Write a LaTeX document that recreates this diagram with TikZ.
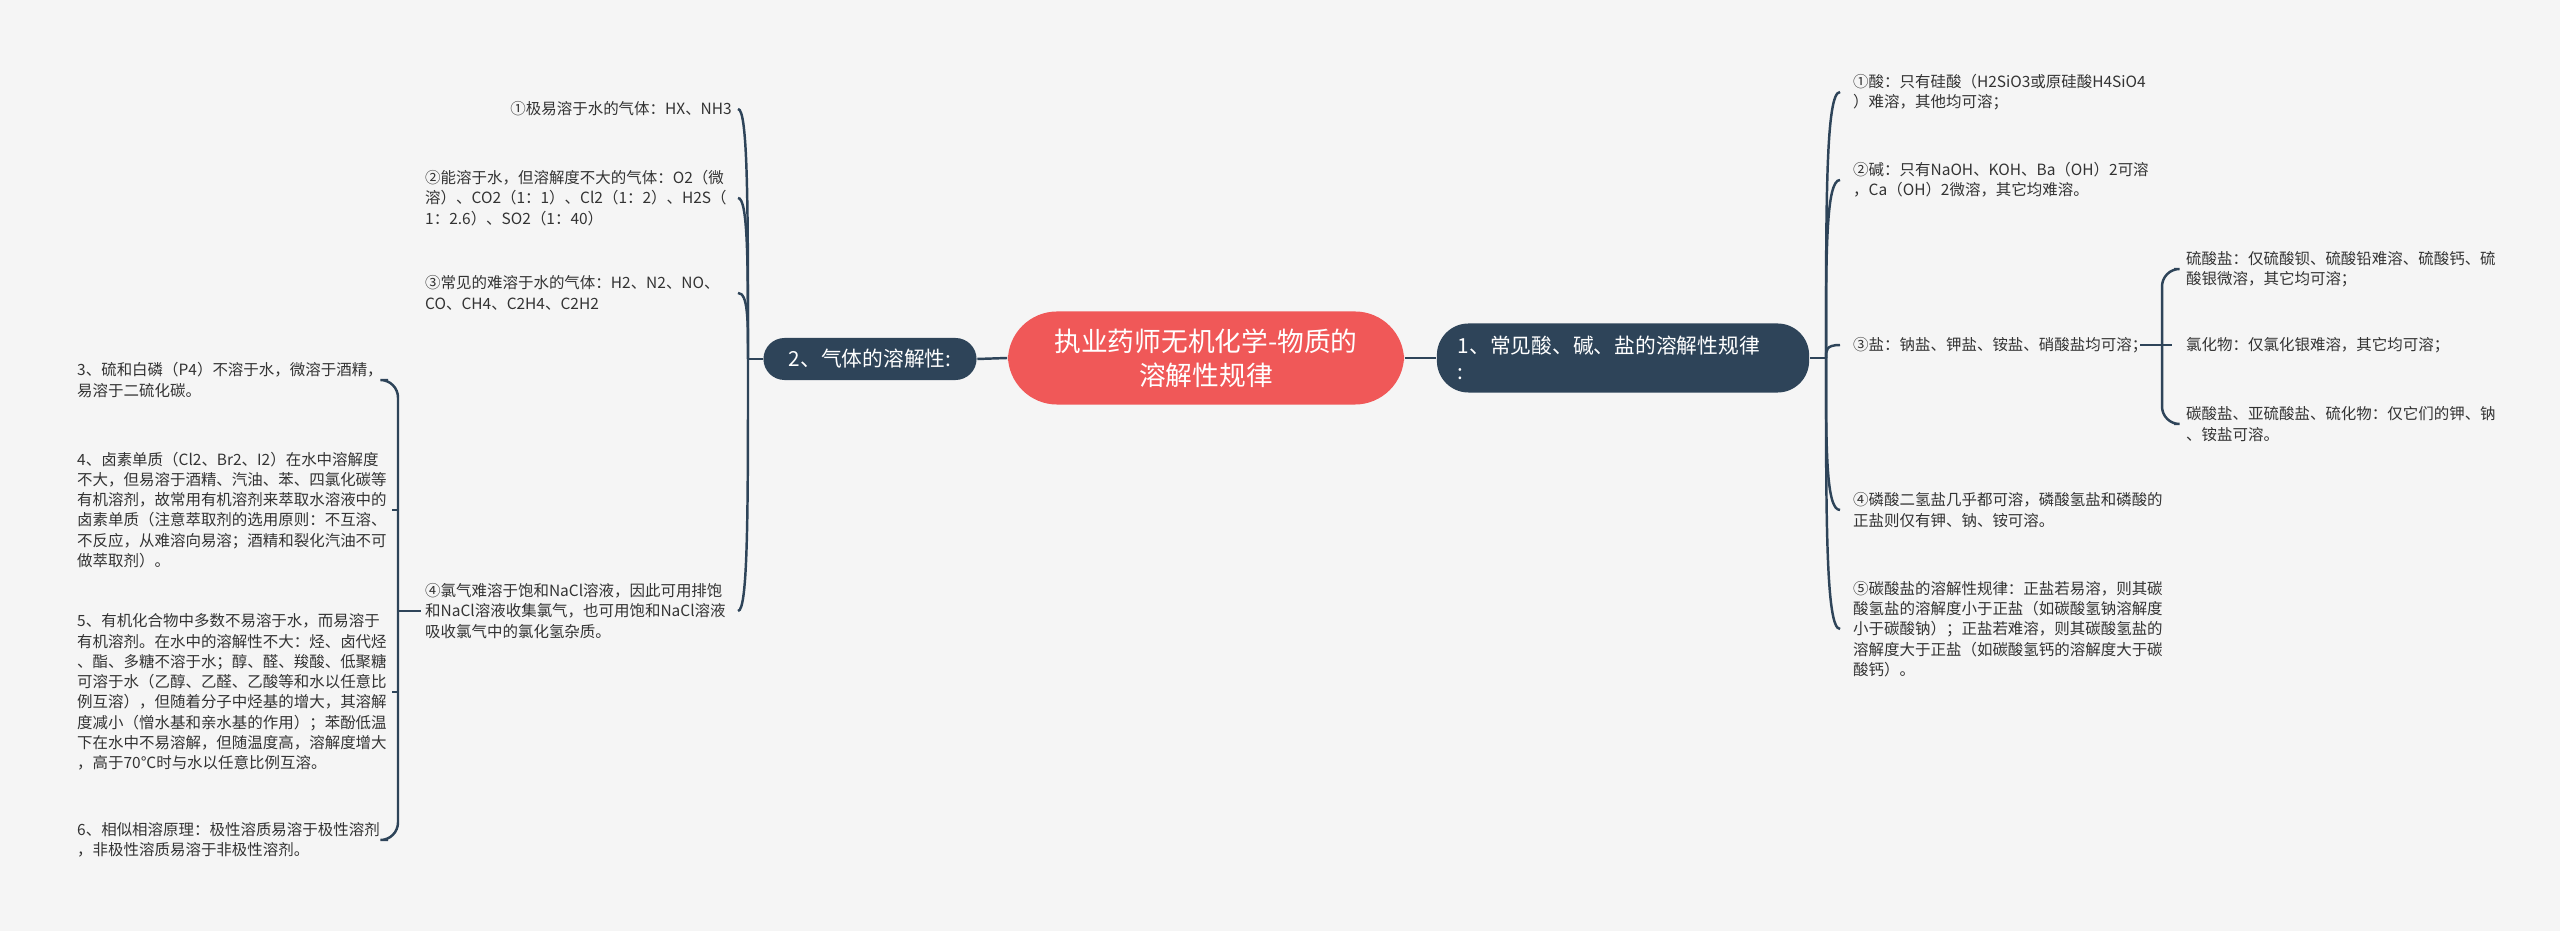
\documentclass[tikz,border=0pt]{standalone}
\usepackage{fontspec}
\setmainfont{Noto Sans CJK SC}
\begin{document}
\begin{tikzpicture}[x=0.01cm,y=-0.01cm,
  txt/.style={font=\fontsize{4.4pt}{5.75pt}\selectfont,text=black!80,inner sep=1pt,align=left,text width=3.3cm},
  con/.style={draw=dkblue,line width=0.7pt},
  dkbox/.style={fill=dkblue,rounded corners=9pt,text=white,font=\fontsize{5.9pt}{7.4pt}\selectfont,align=left,inner sep=0pt}]
\definecolor{dkblue}{HTML}{2E4459}
\definecolor{redc}{HTML}{F05858}
\fill[black!4] (0,0) rectangle (2560,931);
\useasboundingbox (0,0) rectangle (2560,931);
% main nodes
\node[fill=redc,rounded corners=14pt,minimum width=3.96cm,minimum height=0.93cm,text=white,font=\fontsize{7.6pt}{9.7pt}\selectfont,align=center,inner sep=0pt] (c) at (1206,358) {执业药师无机化学-物质的\\溶解性规律};
\node[dkbox,minimum width=3.72cm,minimum height=0.69cm,text width=3.3cm] (n1) at (1623,358) {1、常见酸、碱、盐的溶解性规律\\:};
\node[dkbox,minimum width=2.13cm,minimum height=0.42cm,rounded corners=6pt,align=center] (n2) at (870,359) {2、气体的溶解性:};
\draw[con] (n2.east) -- (c.west);
\draw[con] (c.east) -- (n1.west);
% left children
\coordinate (lt) at (748,359);
\draw[con] (n2.west) -- (lt);
\node[txt,anchor=east,align=right] (l1) at (736,109) {①极易溶于水的气体：HX、NH3};
\node[txt,anchor=west] (l2) at (421,198) {②能溶于水，但溶解度不大的气体：O2（微\\溶）、CO2（1：1）、Cl2（1：2）、H2S（\\1：2.6）、SO2（1：40）};
\node[txt,anchor=west] (l3) at (421,293) {③常见的难溶于水的气体：H2、N2、NO、\\CO、CH4、C2H4、C2H2};
\node[txt,anchor=west] (l4) at (421,611) {④氯气难溶于饱和NaCl溶液，因此可用排饱\\和NaCl溶液收集氯气，也可用饱和NaCl溶液\\吸收氯气中的氯化氢杂质。};
\foreach \n/\y in {l1/109,l2/198,l3/293,l4/611}{
  \draw[con] (lt) .. controls (748,{\y+0.4*(359-\y)}) and (748,\y) .. (738,\y);
}
% level 3 left
\node[txt,anchor=west] (a3) at (73,380) {3、硫和白磷（P4）不溶于水，微溶于酒精，\\易溶于二硫化碳。};
\node[txt,anchor=west] (a4) at (73,510) {4、卤素单质（Cl2、Br2、I2）在水中溶解度\\不大，但易溶于酒精、汽油、苯、四氯化碳等\\有机溶剂，故常用有机溶剂来萃取水溶液中的\\卤素单质（注意萃取剂的选用原则：不互溶、\\不反应，从难溶向易溶；酒精和裂化汽油不可\\做萃取剂）。};
\node[txt,anchor=west] (a5) at (73,692) {5、有机化合物中多数不易溶于水，而易溶于\\有机溶剂。在水中的溶解性不大：烃、卤代烃\\、酯、多糖不溶于水；醇、醛、羧酸、低聚糖\\可溶于水（乙醇、乙醛、乙酸等和水以任意比\\例互溶），但随着分子中烃基的增大，其溶解\\度减小（憎水基和亲水基的作用）；苯酚低温\\下在水中不易溶解，但随温度高，溶解度增大\\，高于70℃时与水以任意比例互溶。};
\node[txt,anchor=west] (a6) at (73,840) {6、相似相溶原理：极性溶质易溶于极性溶剂\\，非极性溶质易溶于非极性溶剂。};
\coordinate (lb) at (398,611);
\draw[con] (421,611) -- (lb);
\draw[con,rounded corners=5pt] (388,380) -- (398,380) -- (398,840) -- (388,840);
\draw[con] (398,510) -- (392,510);
\draw[con] (398,692) -- (392,692);
% right children
\coordinate (rt) at (1826,358);
\draw[con] (n1.east) -- (rt);
\node[txt,anchor=west,text width=3.1cm] (r1) at (1849,92) {①酸：只有硅酸（H2SiO3或原硅酸H4SiO4\\）难溶，其他均可溶；};
\node[txt,anchor=west,text width=3.1cm] (r2) at (1849,180) {②碱：只有NaOH、KOH、Ba（OH）2可溶\\，Ca（OH）2微溶，其它均难溶。};
\node[txt,anchor=west,text width=2.8cm] (r3) at (1849,345) {③盐：钠盐、钾盐、铵盐、硝酸盐均可溶；};
\node[txt,anchor=west,text width=3.1cm] (r4) at (1849,510) {④磷酸二氢盐几乎都可溶，磷酸氢盐和磷酸的\\正盐则仅有钾、钠、铵可溶。};
\node[txt,anchor=west,text width=3.1cm] (r5) at (1849,629) {⑤碳酸盐的溶解性规律：正盐若易溶，则其碳\\酸氢盐的溶解度小于正盐（如碳酸氢钠溶解度\\小于碳酸钠）；正盐若难溶，则其碳酸氢盐的\\溶解度大于正盐（如碳酸氢钙的溶解度大于碳\\酸钙）。};
\foreach \n/\y in {r1/92,r2/180,r3/345,r4/510,r5/629}{
  \draw[con] (rt) .. controls (1826,{\y+0.4*(358-\y)}) and (1826,\y) .. (1840,\y);
}
% sub of r3
\node[txt,anchor=west] (s1) at (2182,269) {硫酸盐：仅硫酸钡、硫酸铅难溶、硫酸钙、硫\\酸银微溶，其它均可溶；};
\node[txt,anchor=west] (s2) at (2182,345) {氯化物：仅氯化银难溶，其它均可溶；};
\node[txt,anchor=west] (s3) at (2182,424) {碳酸盐、亚硫酸盐、硫化物：仅它们的钾、钠\\、铵盐可溶。};
\draw[con] (2140,345) -- (2172,345);
\draw[con,rounded corners=5pt] (2174,269) -- (2162,269) -- (2162,424) -- (2174,424);
\end{tikzpicture}
\end{document}
